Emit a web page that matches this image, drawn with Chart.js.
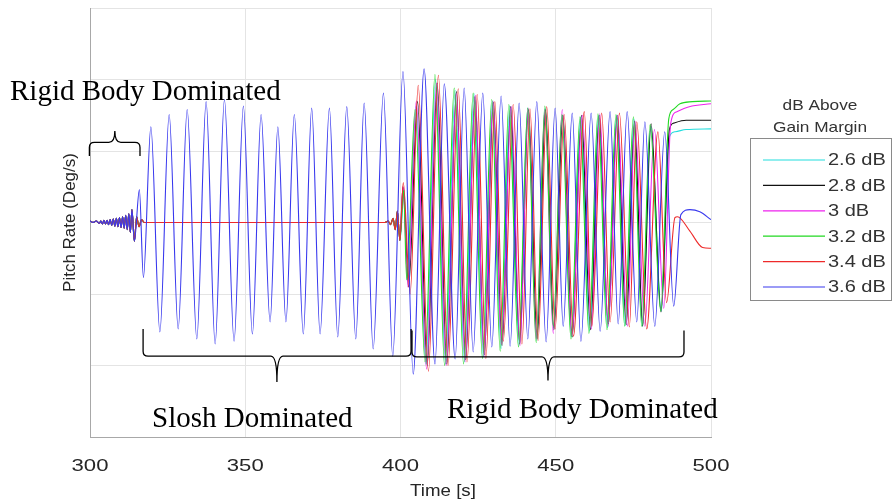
<!DOCTYPE html>
<html>
<head>
<meta charset="utf-8">
<script src="https://cdn.jsdelivr.net/npm/chart.js@4.4.1/dist/chart.umd.min.js"></script>
<style>
  html, body { margin: 0; padding: 0; background: #fff; }
</style>
</head>
<body>
<canvas id="pitch-chart" width="894" height="503"></canvas>
<script>
// Axis ticks
const xTicks = [300, 350, 400, 450, 500];
const yMin = -3, yMax = 3;

// Legend
const legendTitle = ["dB Above", "Gain Margin"];
const seriesLabels = ["2.6 dB", "2.8 dB", "3 dB", "3.2 dB", "3.4 dB", "3.6 dB"];
const seriesColors = ["#22dede", "#111111", "#ee22ee", "#22d822", "#ee2a2a", "#3838ee"];

// Shared start: small fast wobble, 300 - 314 s (time, pitch rate)
const onsetT = [300, 301, 302, 303, 303.5, 304, 304.5, 305, 305.5, 306, 306.5, 307, 307.5, 308, 308.5, 309, 309.5, 310, 310.5, 311, 311.5, 312, 312.5, 313, 313.5, 314.3];
const onsetV = [0.02, 0.0, 0.02, -0.01, 0.02, -0.02, 0.03, -0.02, 0.03, -0.03, 0.04, -0.04, 0.05, -0.05, 0.06, -0.06, 0.07, -0.07, 0.08, -0.08, 0.1, -0.1, 0.12, -0.14, 0.18, -0.26];

// Lower gains settle near zero until ~399 s
const quietT = [315.0, 315.8, 316.6, 317.5, 395.0, 396.0, 396.8, 397.6, 398.3, 399.0];
const quietV = [0.08, -0.06, 0.04, 0.0, 0.0, 0.02, -0.03, 0.06, -0.1, 0.16];

// Peaks / troughs for each gain
const cyanT = [399.8, 401.2, 402.3, 405.0, 408.2, 411.3, 414.5, 417.6, 420.6, 423.7, 426.7, 429.6, 432.4, 435.2, 438.2, 441.0, 443.9, 446.6, 449.3, 452.1, 455.0, 458.0, 460.9, 463.8, 466.7, 469.6, 472.4, 475.2, 477.9, 480.6, 484.0, 486.6, 488.5, 492.0, 500];
const cyanV = [-0.25, 0.45, -0.8, 1.62, -1.98, 2.0, -1.98, 1.85, -1.95, 1.8, -1.88, 1.7, -1.76, 1.63, -1.72, 1.6, -1.65, 1.6, -1.48, 1.5, -1.6, 1.48, -1.52, 1.5, -1.47, 1.5, -1.44, 1.45, -1.45, 1.35, -1.24, 1.2, 1.27, 1.3, 1.31];

const blackT = [399.8, 400.8, 402.6, 405.5, 408.6, 411.8, 414.9, 418.0, 421.0, 424.0, 427.0, 429.9, 432.7, 435.5, 438.4, 441.2, 444.0, 446.7, 449.4, 452.3, 455.3, 458.3, 461.2, 464.0, 466.9, 469.8, 472.7, 475.4, 478.0, 480.7, 483.9, 486.6, 488.0, 492.0, 500];
const blackV = [-0.25, 0.5, -0.9, 1.69, -2.0, 1.95, -1.98, 1.83, -1.92, 1.76, -1.85, 1.68, -1.72, 1.62, -1.7, 1.58, -1.62, 1.58, -1.5, 1.5, -1.6, 1.5, -1.5, 1.5, -1.42, 1.5, -1.43, 1.42, -1.45, 1.38, -1.25, 1.3, 1.39, 1.43, 1.43];

const magentaT = [399.8, 400.8, 402.4, 405.1, 408.4, 411.6, 414.7, 418.0, 420.8, 424.1, 426.9, 429.8, 432.5, 435.7, 438.5, 441.1, 443.7, 446.5, 449.2, 452.1, 455.1, 458.6, 461.5, 464.2, 466.9, 469.9, 473.1, 475.5, 478.7, 481.8, 484.8, 487.0, 489.0, 493.0, 500];
const magentaV = [-0.25, 0.5, -0.9, 1.7, -2.05, 1.95, -2.0, 1.8, -1.95, 1.78, -1.88, 1.7, -1.7, 1.62, -1.72, 1.6, -1.63, 1.58, -1.55, 1.58, -1.58, 1.5, -1.49, 1.52, -1.45, 1.5, -1.45, 1.42, -1.45, 1.3, -1.2, 1.38, 1.55, 1.62, 1.66];

const greenT = [399.8, 401.0, 402.0, 404.7, 407.9, 411.1, 414.2, 417.3, 420.3, 423.4, 426.4, 429.4, 432.1, 434.9, 438.0, 441.0, 443.7, 446.5, 449.2, 452.0, 454.9, 457.8, 460.7, 463.6, 466.5, 469.4, 472.2, 475.0, 477.7, 480.4, 483.8, 486.4, 487.8, 490.0, 494.0, 500];
const greenV = [-0.25, 0.45, -0.8, 1.58, -1.95, 2.07, -2.0, 1.88, -1.98, 1.81, -1.9, 1.72, -1.8, 1.65, -1.74, 1.6, -1.68, 1.63, -1.45, 1.51, -1.63, 1.48, -1.55, 1.52, -1.5, 1.51, -1.45, 1.48, -1.45, 1.37, -1.24, 1.45, 1.58, 1.66, 1.69, 1.7];

const redT = [399.8, 400.9, 403.1, 405.7, 409.0, 412.2, 415.3, 418.6, 421.4, 424.7, 427.5, 430.4, 433.1, 436.3, 439.1, 441.7, 444.3, 447.1, 449.8, 452.7, 455.7, 459.2, 461.6, 464.8, 467.5, 470.5, 473.7, 476.1, 479.3, 482.9, 485.7, 488.4, 489.2, 493.2, 497.3, 500];
const redV = [-0.25, 0.56, -1.0, 1.92, -2.08, 2.06, -2.0, 1.87, -1.95, 1.79, -1.9, 1.69, -1.66, 1.65, -1.7, 1.59, -1.65, 1.62, -1.49, 1.51, -1.59, 1.55, -1.45, 1.53, -1.39, 1.53, -1.46, 1.41, -1.49, 1.27, -1.12, 0.07, 0.08, -0.12, -0.35, -0.36];

// 3.6 dB swings through the slosh phase too
const blueT = [315.9, 317.2, 319.6, 322.5, 325.5, 328.4, 331.3, 334.4, 337.4, 340.3, 343.3, 346.4, 349.4, 352.3, 355.1, 358.0, 360.5, 363.1, 365.8, 368.7, 371.4, 374.1, 377.1, 379.8, 382.7, 385.6, 388.3, 391.2, 394.5, 397.5, 400.8, 404.1, 407.6, 411.1, 414.1, 417.6, 420.5, 423.4, 426.5, 429.4, 432.4, 435.3, 438.2, 441.0, 443.9, 446.9, 449.8, 452.4, 455.3, 458.1, 461.4, 464.3, 467.5, 470.1, 473.0, 476.1, 478.7, 481.9, 485.1, 488.0, 490.3, 493.2, 496.4, 500];
const blueV = [0.46, -0.77, 1.34, -1.53, 1.51, -1.49, 1.58, -1.63, 1.69, -1.70, 1.72, -1.66, 1.63, -1.56, 1.51, -1.39, 1.34, -1.39, 1.51, -1.56, 1.60, -1.56, 1.60, -1.60, 1.62, -1.63, 1.67, -1.77, 1.81, -1.87, 2.11, -2.12, 2.15, -1.98, 1.94, -1.91, 1.88, -1.81, 1.81, -1.74, 1.77, -1.73, 1.67, -1.63, 1.69, -1.67, 1.60, -1.45, 1.53, -1.66, 1.53, -1.52, 1.55, -1.42, 1.55, -1.39, 1.41, -1.45, 1.27, -1.17, 0.11, 0.18, 0.15, 0.04];

// Brace annotations (time start, time end, tip time, level, end, tip) in data units
const braces = [
  [299.8, 316.1, 308.0, 1.12, 0.93, 1.28],
  [317.1, 403.4, 360.2, -1.87, -1.49, -2.23],
  [403.7, 491.3, 447.5, -1.88, -1.51, -2.21]
];

function toPoints(ts, vs) {
  return ts.map((t, i) => ({ x: t, y: vs[i] }));
}

const seriesParts = [
  [cyanT, cyanV], [blackT, blackV], [magentaT, magentaV],
  [greenT, greenV], [redT, redV]
];

const datasets = seriesLabels.map((label, i) => {
  let pts = toPoints(onsetT, onsetV);
  if (i < 5) {
    pts = pts.concat(toPoints(quietT, quietV), toPoints(seriesParts[i][0], seriesParts[i][1]));
  } else {
    pts = pts.concat(toPoints(blueT, blueV));
  }
  return {
    label: label,
    data: pts,
    borderColor: seriesColors[i],
    borderWidth: 1.1,
    pointRadius: 0,
    fill: false,
    cubicInterpolationMode: "monotone",
    order: 5 - i
  };
});

function stretchText(ctx, text, x, y, sx, align) {
  ctx.save();
  ctx.translate(x, y);
  ctx.scale(sx, 1);
  ctx.textAlign = align;
  ctx.fillText(text, 0, 0);
  ctx.restore();
}

function drawBrace(ctx, x1, x2, xm, yl, ye, yt) {
  const r = 5;
  const dEnd = ye < yl ? -1 : 1;
  ctx.beginPath();
  ctx.moveTo(x1, ye);
  ctx.lineTo(x1, yl + dEnd * r);
  ctx.quadraticCurveTo(x1, yl, x1 + r, yl);
  ctx.lineTo(xm - 6, yl);
  ctx.quadraticCurveTo(xm, yl, xm, yt);
  ctx.quadraticCurveTo(xm, yl, xm + 6, yl);
  ctx.lineTo(x2 - r, yl);
  ctx.quadraticCurveTo(x2, yl, x2, yl + dEnd * r);
  ctx.lineTo(x2, ye);
  ctx.stroke();
}

const overlay = {
  id: "overlay",
  afterDraw(chart) {
    const ctx = chart.ctx;
    const xs = chart.scales.x, ys = chart.scales.y;
    const area = chart.chartArea;

    // x tick labels
    ctx.fillStyle = "#262626";
    ctx.textBaseline = "middle";
    ctx.font = '17px "Liberation Sans", Arial, sans-serif';
    xTicks.forEach(t => stretchText(ctx, String(t), xs.getPixelForValue(t), 466, 1.3, "center"));

    // axis titles
    stretchText(ctx, "Time [s]", 443, 491, 1.1, "center");
    ctx.save();
    ctx.translate(70, (area.top + area.bottom) / 2);
    ctx.rotate(-Math.PI / 2);
    ctx.textAlign = "center";
    ctx.fillText("Pitch Rate (Deg/s)", 0, 0);
    ctx.restore();

    // braces
    ctx.strokeStyle = "#000";
    ctx.lineWidth = 1.3;
    braces.forEach(b => {
      drawBrace(ctx, xs.getPixelForValue(b[0]), xs.getPixelForValue(b[1]), xs.getPixelForValue(b[2]),
        ys.getPixelForValue(b[3]), ys.getPixelForValue(b[4]), ys.getPixelForValue(b[5]));
    });

    // annotation text
    ctx.fillStyle = "#000";
    ctx.textBaseline = "alphabetic";
    ctx.textAlign = "left";
    ctx.font = '29px "Liberation Serif", "Times New Roman", serif';
    ctx.fillText("Rigid Body Dominated", 10, 100);
    ctx.fillText("Slosh Dominated", 152, 427);
    ctx.fillText("Rigid Body Dominated", 447, 418);

    // legend
    ctx.fillStyle = "#333";
    ctx.textBaseline = "middle";
    ctx.font = '15px "Liberation Sans", Arial, sans-serif';
    stretchText(ctx, legendTitle[0], 820, 106, 1.15, "center");
    stretchText(ctx, legendTitle[1], 820, 128, 1.15, "center");
    ctx.strokeStyle = "#8a8a8a";
    ctx.lineWidth = 1;
    ctx.strokeRect(750.5, 138.5, 141, 162);
    ctx.font = '16px "Liberation Sans", Arial, sans-serif';
    seriesLabels.forEach((lab, i) => {
      const y = 160 + i * 25.4;
      ctx.strokeStyle = seriesColors[i];
      ctx.lineWidth = 1.2;
      ctx.beginPath();
      ctx.moveTo(763, y);
      ctx.lineTo(825, y);
      ctx.stroke();
      ctx.fillStyle = "#333";
      stretchText(ctx, lab, 828, y + 1, 1.25, "left");
    });
  }
};

const ctx = document.getElementById("pitch-chart").getContext("2d");
new Chart(ctx, {
  type: "line",
  data: { datasets: datasets },
  options: {
    responsive: false,
    animation: false,
    layout: { padding: { top: 8, right: 183, left: 0, bottom: 0 } },
    plugins: { legend: { display: false }, tooltip: { enabled: false } },
    scales: {
      x: {
        type: "linear",
        min: 300,
        max: 500,
        ticks: { stepSize: 50, display: false },
        grid: { color: "#e4e4e4", drawTicks: false },
        border: { color: "#a8a8a8" },
        afterFit: s => { s.height = 66; }
      },
      y: {
        type: "linear",
        min: yMin,
        max: yMax,
        ticks: { stepSize: 1, display: false },
        grid: { color: "#e4e4e4", drawTicks: false },
        border: { color: "#a8a8a8" },
        afterFit: s => { s.width = 90; }
      }
    }
  },
  plugins: [overlay]
});
</script>
</body>
</html>
